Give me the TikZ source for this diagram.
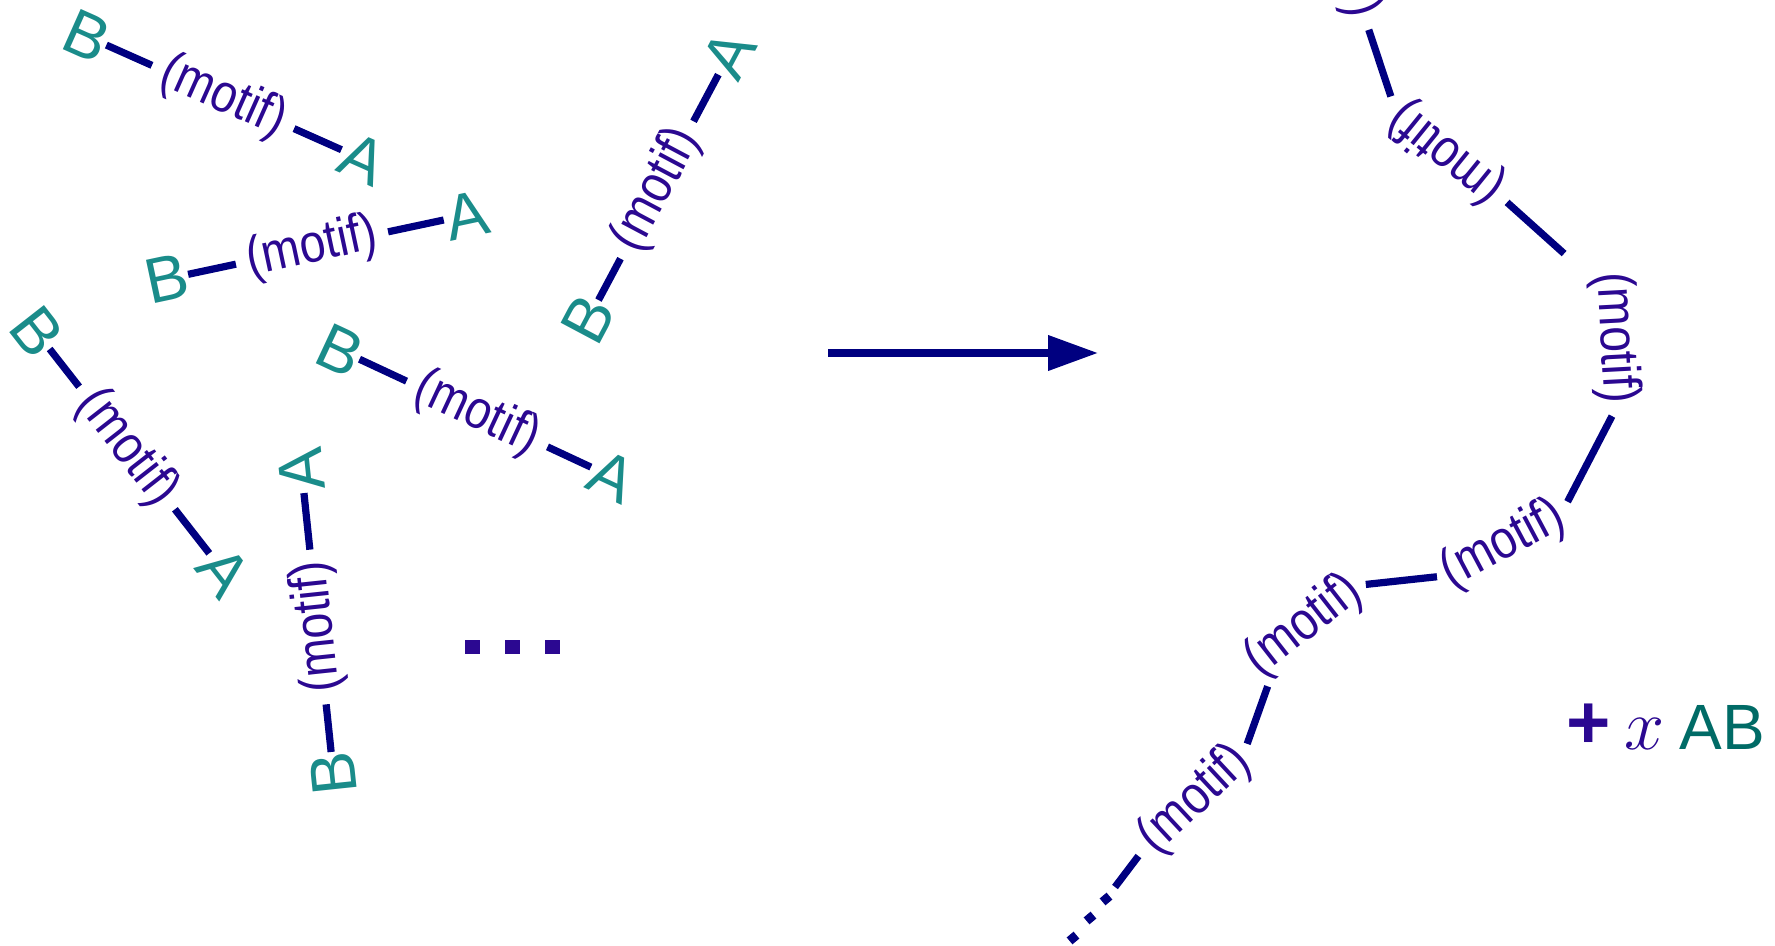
\documentclass[tikz,border=0pt]{standalone}
\usepackage{fix-cm}
\usepackage{graphicx}
\usepackage{fontspec}
\setmainfont{Liberation Sans}
\usetikzlibrary{calc,arrows.meta}
\definecolor{tealAB}{RGB}{26,140,138}
\definecolor{tealdark}{RGB}{0,107,102}
\definecolor{motifc}{RGB}{43,8,145}
\definecolor{bondc}{RGB}{0,0,128}
\newcommand\motiftext{\scalebox{0.86}[1]{(motif)}}
\newcommand\molecule[6]{%
  \node[motif, rotate=#4] (M#1) at (#2,-#3) {\motiftext};
  \node[letter, rotate=#4] (B#1) at ($(M#1)+(#4+180:#5)$) {B};
  \node[letter, rotate=#4] (A#1) at ($(M#1)+(#4:#6)$) {A};
  \draw[bond, shorten >=6pt] (B#1.east) -- (M#1.west);
  \draw[bond, shorten <=6pt, shorten >=1pt] (M#1.east) -- (A#1.west);
}
\begin{document}
\begin{tikzpicture}[x=0.5pt,y=0.5pt,
  letter/.style={text=tealAB, font=\fontsize{32}{32}\selectfont, inner sep=0pt, outer sep=0pt},
  motif/.style={text=motifc, font=\fontsize{27}{27}\selectfont, inner sep=0pt, outer sep=0pt},
  bond/.style={draw=bondc, line width=3.6pt},
  bigdot/.style={fill=motifc, minimum width=7.5pt, minimum height=7pt, inner sep=0pt},
  smalldot/.style={fill=bondc, minimum size=4.5pt, inner sep=0pt}]
\useasboundingbox (0,0) rectangle (1775,-946);

% free molecules
\molecule{1}{223}{97}{-24}{149}{153}
\molecule{2}{312}{248}{12}{148}{158}
\molecule{3}{657}{190}{62}{146}{154}
\molecule{4}{127}{448}{-52}{147}{157}
\molecule{5}{477}{414}{-25}{151}{149}
\molecule{6}{318}{627}{96}{147}{158}

\node[bigdot] (e1) at (472,-647) {};
\node[bigdot] (e2) at (512,-647) {};
\node[bigdot] (e3) at (552,-647) {};

% reaction arrow
\coordinate (arrS) at (828,-353);
\coordinate (arrE) at (1098,-353);
\draw[bond, -{Triangle[length=25pt,width=17pt]}] (arrS) -- (arrE);

% chain
\node[motif, rotate=-75] (C0) at (1347,48) {\motiftext};
\node[motif, rotate=141] (C1) at (1447,-153) {\motiftext};
\node[motif, rotate=-87] (C2) at (1615,-338) {\motiftext};
\node[motif, rotate=28] (C3) at (1503,-545) {\motiftext};
\node[motif, rotate=38] (C4) at (1304,-626) {\motiftext};
\node[motif, rotate=43] (C5) at (1195,-800) {\motiftext};
\coordinate (tail) at (1115,-887);

\draw[bond, shorten <=7.5pt, shorten >=8pt] (C0.east) -- (C1.east);
\draw[bond, shorten <=6pt, shorten >=15pt] (C1.west) -- (C2.south west);
\draw[bond, shorten <=7pt, shorten >=7pt] (C2.east) -- (C3.east);
\draw[bond, shorten <=4pt, shorten >=5pt] (C3.west) -- (C4.east);
\draw[bond, shorten <=6pt] (C5.east) -- (C4.south west);
\draw[bond, shorten <=7pt] (C5.west) -- (tail);

\node[smalldot, rotate=40] (t1) at (1106,-899) {};
\node[smalldot, rotate=40] (t2) at (1090,-918) {};
\node[smalldot, rotate=40] (t3) at (1073,-938) {};

% + x AB
\node[text=motifc, inner sep=0pt, font=\bfseries\fontsize{38}{38}\selectfont] (plus) at (1589,-726) {+};
\node[text=motifc, inner sep=0pt, anchor=base, font=\fontsize{36}{36}\selectfont] (xv) at (1645,-749) {$x$};
\node[text=tealdark, inner sep=0pt, anchor=base west, font=\fontsize{32}{32}\selectfont] (AB) at (1679,-749) {AB};
\end{tikzpicture}
\end{document}
